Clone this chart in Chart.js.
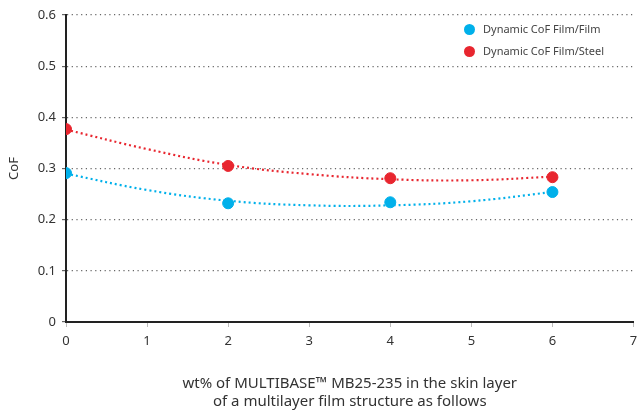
<!DOCTYPE html>
<html>
<head>
<meta charset="utf-8">
<script src="https://cdn.jsdelivr.net/npm/chart.js@4.4.1/dist/chart.umd.min.js"></script>
<style>
  body { margin: 0; background: #fff; }
  #wrap { position: relative; width: 640px; height: 414px; }
  #legend { position: absolute; left: 464px; top: 18px; font: 11px "Noto Sans", sans-serif; color: #444; }
  #legend div { height: 22px; line-height: 18px; display: flex; align-items: center; }
  #legend span.dot { width: 11px; height: 11px; border-radius: 50%; margin-right: 8px; display: inline-block; }
</style>
</head>
<body>
<div id="wrap">
  <canvas id="chart" width="640" height="414"></canvas>
  <div id="legend"></div>
</div>
<script>
// values
const xValues = [0, 2, 4, 6];
const filmFilm = [0.291, 0.232, 0.234, 0.254];
const filmSteel = [0.377, 0.305, 0.281, 0.283];

// dotted trend lines, read at each whole x
const trendX = [0, 1, 2, 3, 4, 5, 6];
const trendFilm = [0.290, 0.258, 0.237, 0.228, 0.228, 0.236, 0.254];
const trendSteel = [0.376, 0.338, 0.307, 0.289, 0.279, 0.277, 0.284];

const seriesNames = ['Dynamic CoF Film/Film', 'Dynamic CoF Film/Steel'];
const BLUE = '#00b0ea';
const RED = '#e8262f';
const FONT = '"Noto Sans", sans-serif';

const pts = (xs, ys) => xs.map((x, i) => ({ x: x, y: ys[i] }));

function trend(data, color) {
    return {
        data: data,
        showLine: true,
        borderColor: color,
        borderWidth: 2.2,
        borderDash: [2, 3],
        tension: 0.4,
        pointRadius: 0,
        order: 2
    };
}

function markers(label, data, color) {
    return {
        label: label,
        data: data,
        backgroundColor: color,
        borderColor: color,
        pointRadius: 5.5,
        showLine: false,
        order: 1
    };
}

new Chart(document.getElementById('chart'), {
    type: 'scatter',
    data: {
        datasets: [
            markers(seriesNames[0], pts(xValues, filmFilm), BLUE),
            markers(seriesNames[1], pts(xValues, filmSteel), RED),
            trend(pts(trendX, trendFilm), BLUE),
            trend(pts(trendX, trendSteel), RED)
        ]
    },
    options: {
        responsive: false,
        animation: false,
        layout: { padding: { top: 15, right: 0, left: 0, bottom: 0 } },
        plugins: { legend: { display: false }, tooltip: { enabled: false } },
        scales: {
            x: {
                min: 0, max: 7,
                ticks: { stepSize: 1, color: '#333', padding: 6, font: { family: FONT, size: 13 } },
                grid: { drawOnChartArea: false, tickLength: 5, color: '#bbb' },
                border: { color: '#222', width: 2 },
                title: {
                    display: true,
                    text: ['wt% of MULTIBASE\u2122 MB25-235 in the skin layer', 'of a multilayer film structure as follows'],
                    color: '#333',
                    font: { family: FONT, size: 15, lineHeight: 1.2 },
                    padding: { top: 0, bottom: 3 }
                },
                afterFit: (s) => { s.height = 92; s.paddingLeft = 0; s.paddingRight = 0; }
            },
            y: {
                min: 0, max: 0.6,
                ticks: { stepSize: 0.1, color: '#333', padding: 6, font: { family: FONT, size: 13 } },
                grid: { color: '#666', lineWidth: 1.2, tickLength: 4 },
                border: { color: '#222', width: 2, dash: [1.2, 3.5] },
                title: {
                    display: true, text: 'CoF', color: '#333',
                    font: { family: FONT, size: 13 },
                    padding: { top: 6, bottom: 0 }
                },
                afterFit: (s) => { s.width = 66; }
            }
        }
    }
});

// legend
const legendColors = [BLUE, RED];
document.getElementById('legend').innerHTML = seriesNames.map((n, i) =>
    '<div><span class="dot" style="background:' + legendColors[i] + '"></span>' + n + '</div>').join('');
</script>
</body>
</html>
